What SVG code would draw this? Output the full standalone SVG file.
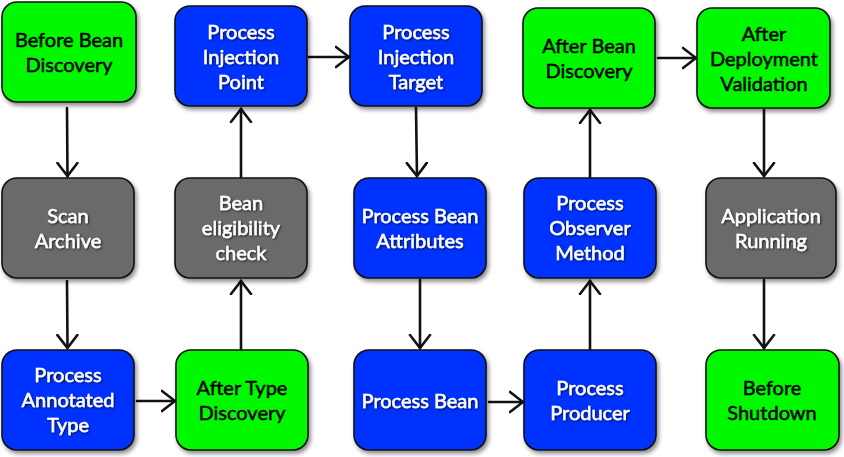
<svg xmlns="http://www.w3.org/2000/svg" width="844" height="457" viewBox="0 0 844 457">
<defs>
<filter id="sh" x="-10%" y="-10%" width="130%" height="130%">
<feDropShadow dx="2" dy="3" stdDeviation="2" flood-color="#000" flood-opacity="0.45"/>
</filter>
<filter id="tsh" x="-10%" y="-20%" width="120%" height="140%">
<feDropShadow dx="1" dy="1" stdDeviation="1" flood-color="#000" flood-opacity="0.7"/>
</filter>
<marker id="ah" markerWidth="16" markerHeight="24" refX="14" refY="12" orient="auto" markerUnits="userSpaceOnUse">
<path d="M1,2 L14,12 L1,22" fill="none" stroke="#111" stroke-width="2.6" stroke-linejoin="miter" stroke-linecap="round"/>
</marker>
<style>
.box{stroke:#111;stroke-width:1.6;filter:url(#sh)}
.g{fill:#00f900}
.b{fill:#0433ff}
.y{fill:#6b6b6b}
text{font-family:"Lato","Open Sans","Liberation Sans",sans-serif;font-size:20px;text-anchor:middle;stroke-width:0.5}
.wt{fill:#fff;stroke:#fff;filter:url(#tsh)}
.bt{fill:#000;stroke:#000}
.c{fill:none;stroke:#111;stroke-width:2.6;stroke-linecap:round;marker-end:url(#ah)}
</style>
</defs>
<g id="connectors">
<path class="c" d="M67,108 L67.5,176"/>
<path class="c" d="M67,281 L67.5,348"/>
<path class="c" d="M137,401 L175,401"/>
<path class="c" d="M241,349 L241,281"/>
<path class="c" d="M241,177 L241,109"/>
<path class="c" d="M309,57 L349,57"/>
<path class="c" d="M416,108 L417,176"/>
<path class="c" d="M420,280 L420,348"/>
<path class="c" d="M489,402 L523,402"/>
<path class="c" d="M590,349 L590,281"/>
<path class="c" d="M590,177 L590,110"/>
<path class="c" d="M658,58 L696,58"/>
<path class="c" d="M764,110 L764,176"/>
<path class="c" d="M764,280 L764,348"/>
</g>
<g id="n1"><rect class="box g" x="2" y="2" width="134" height="100" rx="15"/><text class="bt" x="69" y="47">Before Bean</text><text class="bt" x="69" y="72">Discovery</text></g>
<g id="n2"><rect class="box y" x="2" y="178" width="132" height="100" rx="15"/><text class="wt" x="68" y="223">Scan</text><text class="wt" x="68" y="248">Archive</text></g>
<g id="n3"><rect class="box b" x="2" y="350" width="132" height="100" rx="15"/><text class="wt" x="68" y="382">Process</text><text class="wt" x="68" y="407">Annotated</text><text class="wt" x="68" y="432">Type</text></g>
<g id="n4"><rect class="box g" x="176" y="350" width="132" height="100" rx="15"/><text class="bt" x="242" y="395">After Type</text><text class="bt" x="242" y="420">Discovery</text></g>
<g id="n5"><rect class="box y" x="175" y="178" width="132" height="100" rx="15"/><text class="wt" x="241" y="210">Bean</text><text class="wt" x="241" y="235">eligibility</text><text class="wt" x="241" y="260">check</text></g>
<g id="n6"><rect class="box b" x="175" y="6" width="132" height="100" rx="15"/><text class="wt" x="241" y="39">Process</text><text class="wt" x="241" y="64">Injection</text><text class="wt" x="241" y="89">Point</text></g>
<g id="n7"><rect class="box b" x="350" y="6" width="132" height="100" rx="15"/><text class="wt" x="416" y="39">Process</text><text class="wt" x="416" y="64">Injection</text><text class="wt" x="416" y="89">Target</text></g>
<g id="n8"><rect class="box b" x="354" y="178" width="132" height="100" rx="15"/><text class="wt" x="420" y="223">Process Bean</text><text class="wt" x="420" y="248">Attributes</text></g>
<g id="n9"><rect class="box b" x="354" y="350" width="132" height="100" rx="15"/><text class="wt" x="420" y="408">Process Bean</text></g>
<g id="n10"><rect class="box b" x="524" y="350" width="132" height="100" rx="15"/><text class="wt" x="590" y="395">Process</text><text class="wt" x="590" y="420">Producer</text></g>
<g id="n11"><rect class="box b" x="524" y="178" width="132" height="100" rx="15"/><text class="wt" x="590" y="210">Process</text><text class="wt" x="590" y="235">Observer</text><text class="wt" x="590" y="260">Method</text></g>
<g id="n12"><rect class="box g" x="523" y="8" width="132" height="100" rx="15"/><text class="bt" x="589" y="53">After Bean</text><text class="bt" x="589" y="78">Discovery</text></g>
<g id="n13"><rect class="box g" x="697" y="8" width="133" height="100" rx="15"/><text class="bt" x="764" y="41">After</text><text class="bt" x="764" y="66">Deployment</text><text class="bt" x="764" y="91">Validation</text></g>
<g id="n14"><rect class="box y" x="706" y="178" width="130" height="100" rx="15"/><text class="wt" x="771" y="223">Application</text><text class="wt" x="771" y="248">Running</text></g>
<g id="n15"><rect class="box g" x="706" y="350" width="133" height="100" rx="15"/><text class="bt" x="772" y="395">Before</text><text class="bt" x="772" y="420">Shutdown</text></g>
</svg>
